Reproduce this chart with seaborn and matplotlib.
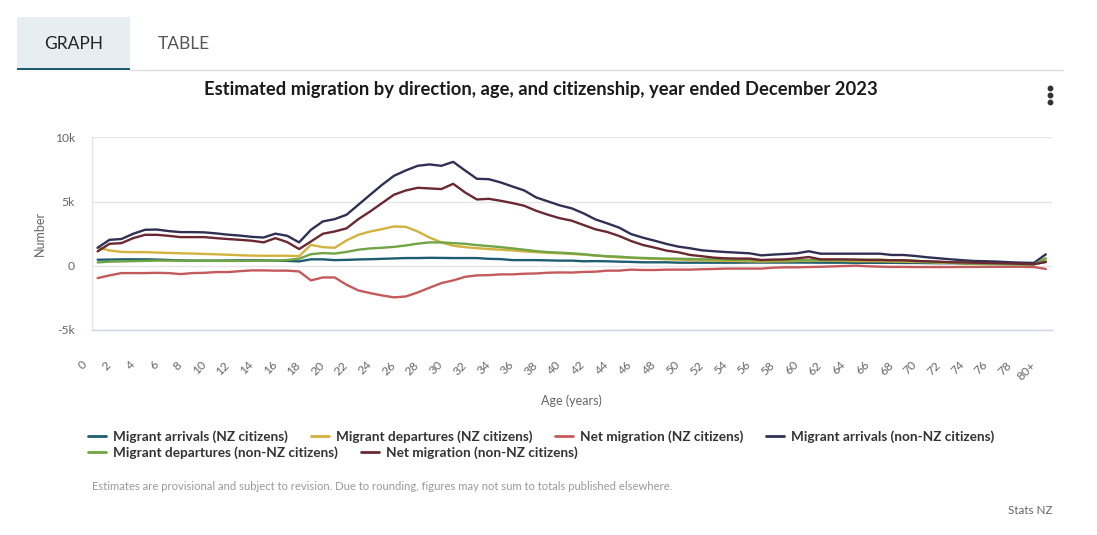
import matplotlib
matplotlib.use("Agg")
import matplotlib.pyplot as plt
import matplotlib.transforms as mtransforms
from matplotlib.patches import Rectangle
from matplotlib.lines import Line2D
from matplotlib.font_manager import FontProperties
import seaborn as sns
import pandas as pd

# ---------------- data ----------------
ages = [str(i) for i in range(80)] + ["80+"]

series_names = [
    "Migrant arrivals (NZ citizens)",
    "Migrant departures (NZ citizens)",
    "Net migration (NZ citizens)",
    "Migrant arrivals (non-NZ citizens)",
    "Migrant departures (non-NZ citizens)",
    "Net migration (non-NZ citizens)",
]

nz_arrivals = [
    470, 480, 500, 500, 500, 480, 450, 420, 400, 400,
    400, 410, 420, 420, 420, 400, 380, 340, 500, 500,
    440, 460, 490, 510, 540, 570, 600, 600, 620, 610,
    600, 600, 600, 540, 520, 440, 440, 440, 420, 400,
    400, 350, 360, 350, 320, 300, 270, 270, 270, 240,
    240, 240, 240, 240, 240, 250, 250, 250, 250, 250,
    250, 240, 240, 240, 230, 230, 230, 230, 220, 220,
    210, 200, 200, 190, 180, 170, 160, 150, 150, 140,
    300,
]

nz_departures = [
    1420, 1190, 1080, 1060, 1060, 1030, 1000, 970, 950, 920,
    890, 860, 820, 790, 780, 780, 780, 750, 1630, 1450,
    1400, 1970, 2410, 2670, 2850, 3060, 3030, 2670, 2200, 1820,
    1560, 1450, 1370, 1300, 1250, 1190, 1120, 1060, 1010, 970,
    920, 870, 790, 720, 650, 620, 570, 540, 500, 480,
    450, 430, 400, 380, 370, 350, 330, 350, 350, 370,
    400, 400, 400, 380, 360, 360, 350, 330, 320, 300,
    280, 250, 230, 200, 180, 160, 150, 130, 120, 120,
    450,
]

nz_net = [
    -960, -750, -570, -570, -570, -550, -570, -650, -570, -550,
    -490, -490, -420, -360, -360, -380, -380, -440, -1140, -910,
    -910, -1480, -1920, -2130, -2310, -2460, -2390, -2080, -1710, -1350,
    -1140, -860, -750, -730, -670, -670, -620, -600, -540, -520,
    -530, -480, -460, -380, -380, -300, -330, -330, -300, -300,
    -300, -270, -250, -220, -220, -220, -220, -150, -120, -120,
    -100, -80, -50, -20, 10, -40, -70, -90, -90, -100,
    -100, -100, -100, -90, -90, -80, -80, -80, -80, -100,
    -250,
]

nonnz_arrivals = [
    1400, 2020, 2080, 2490, 2800, 2820, 2700, 2620, 2620, 2600,
    2520, 2420, 2350, 2250, 2200, 2500, 2330, 1820, 2800, 3450,
    3630, 3970, 4750, 5530, 6300, 7000, 7420, 7780, 7890, 7780,
    8090, 7420, 6770, 6740, 6490, 6170, 5860, 5320, 5010, 4700,
    4470, 4080, 3610, 3300, 2970, 2470, 2190, 1950, 1700, 1490,
    1360, 1200, 1130, 1070, 1020, 970, 810, 870, 920, 970,
    1130, 940, 940, 940, 940, 940, 940, 840, 840, 760,
    660, 580, 500, 430, 370, 350, 320, 270, 240, 220,
    890,
]

nonnz_departures = [
    260, 320, 340, 360, 380, 400, 400, 400, 400, 390,
    380, 380, 380, 380, 400, 400, 450, 550, 900, 990,
    950, 1080, 1250, 1350, 1400, 1470, 1580, 1720, 1820, 1820,
    1760, 1710, 1610, 1530, 1450, 1350, 1250, 1140, 1060, 1020,
    970, 900, 810, 740, 710, 640, 610, 580, 560, 550,
    530, 500, 500, 480, 460, 450, 430, 430, 430, 430,
    450, 440, 440, 440, 450, 470, 470, 420, 420, 400,
    320, 280, 250, 180, 150, 140, 130, 110, 100, 100,
    580,
]

nonnz_net = [
    1120, 1710, 1760, 2150, 2410, 2410, 2330, 2230, 2230, 2230,
    2150, 2080, 2020, 1950, 1820, 2150, 1840, 1300, 1890, 2490,
    2670, 2910, 3630, 4230, 4880, 5530, 5860, 6070, 6020, 5970,
    6380, 5710, 5160, 5210, 5060, 4880, 4670, 4280, 3970, 3700,
    3510, 3170, 2840, 2630, 2320, 1930, 1620, 1410, 1180, 1050,
    840, 740, 630, 580, 560, 560, 450, 480, 500, 580,
    680, 500, 500, 500, 480, 450, 450, 430, 430, 370,
    350, 320, 270, 270, 240, 220, 200, 180, 150, 120,
    300,
]

colors = ["#1d5d6f", "#d2b23c", "#c45a5b", "#2f3054", "#70a444", "#6b2832"]

y_ticks = [-5000, 0, 5000, 10000]
y_tick_labels = ["-5k", "0", "5k", "10k"]

# ---------------- table ----------------
all_values = [nz_arrivals, nz_departures, nz_net,
              nonnz_arrivals, nonnz_departures, nonnz_net]
rows = []
for name, vals in zip(series_names, all_values):
    for i, v in enumerate(vals):
        rows.append({"pos": i, "age": ages[i], "series": name, "value": v})
df = pd.DataFrame(rows)

# ---------------- figure ----------------
sns.set_theme(style="white")
plt.rcParams["font.family"] = ["Lato", "DejaVu Sans"]

W, H = 1097, 535
fig = plt.figure(figsize=(W / 100, H / 100), dpi=100)
fig.patch.set_facecolor("white")


def fx(x):
    return x / W


def fy(y):
    return 1 - y / H


ax = fig.add_axes([fx(91.7), fy(330), (1051.7 - 91.7) / W, (330 - 137.3) / H])

sns.lineplot(data=df, x="pos", y="value", hue="series", hue_order=series_names,
             palette=dict(zip(series_names, colors)), linewidth=1.7, ax=ax,
             solid_joinstyle="round", solid_capstyle="round")

handles, labels = ax.get_legend_handles_labels()
if ax.get_legend() is not None:
    ax.get_legend().remove()

ax.set_xlim(-0.5, 80.5)
ax.set_ylim(-5000, 10000)
ax.set_yticks(y_ticks)
ax.set_yticklabels(y_tick_labels)
ax.set_xticks(list(range(0, 81, 2)))
ax.set_xticklabels([ages[i] for i in range(0, 81, 2)])

ax.grid(axis="y", color="#e6e6e6", linewidth=1)
ax.set_axisbelow(True)
for s in ["top", "right"]:
    ax.spines[s].set_visible(False)
ax.spines["left"].set_color("#e6e6e6")
ax.spines["bottom"].set_color("#ccd6eb")
ax.spines["left"].set_linewidth(1)
ax.spines["bottom"].set_linewidth(1)

ax.tick_params(axis="y", length=0, pad=12, labelsize=8.7, labelcolor="#666666")
ax.tick_params(axis="x", length=10, width=1, color="#ccd6eb", pad=11,
               labelsize=8.7, labelcolor="#666666")
offset = mtransforms.ScaledTranslation(-16 / 100, 0, fig.dpi_scale_trans)
for lab in ax.get_xticklabels():
    lab.set_rotation(45)
    lab.set_ha("right")
    lab.set_va("top")
    lab.set_rotation_mode("anchor")
    lab.set_transform(lab.get_transform() + offset)

ax.set_xlabel("")
ax.set_ylabel("")
fig.text(fx(571.7), fy(401), "Age (years)", ha="center", va="center",
         fontsize=9, color="#666666")
fig.text(fx(40), fy(233), "Number", ha="center", va="center", rotation=90,
         fontsize=9, color="#666666")

# title
fig.text(fx(540.5), fy(90),
         "Estimated migration by direction, age, and citizenship, year ended December 2023",
         ha="center", va="center", fontsize=13.2, fontweight="bold", color="#1a1a1a")

# tabs
fig.add_artist(Rectangle((fx(17), fy(68)), 113 / W, 51 / H, transform=fig.transFigure,
                         facecolor="#e6eef1", edgecolor="none"))
fig.add_artist(Rectangle((fx(17), fy(70)), 113 / W, 2.5 / H, transform=fig.transFigure,
                         facecolor="#1d5d6f", edgecolor="none"))
fig.add_artist(Line2D([fx(130), fx(1063)], [fy(69.5), fy(69.5)], transform=fig.transFigure,
                      color="#dddddd", linewidth=1))
fig.text(fx(74), fy(44), "GRAPH", ha="center", va="center", fontsize=12.5, color="#222222")
fig.text(fx(183.5), fy(44), "TABLE", ha="center", va="center", fontsize=12.5, color="#555555")

# menu dots
for yy in (88, 95, 102):
    fig.add_artist(Line2D([fx(1050)], [fy(yy)], transform=fig.transFigure, marker="o",
                          markersize=3.2, color="#333333", linestyle="none"))

# legends (two flowing rows)
lp = FontProperties(family=["Lato", "DejaVu Sans"], weight="bold", size=9.85)
common = dict(frameon=False, prop=lp, handlelength=1.31, handletextpad=0.51,
              columnspacing=1.68, borderpad=0, borderaxespad=0, labelcolor="#333333")
leg1 = fig.legend(handles[:4], labels[:4], loc="center left",
                  bbox_to_anchor=(fx(88), fy(437)), ncol=4, **common)
leg2 = fig.legend(handles[4:], labels[4:], loc="center left",
                  bbox_to_anchor=(fx(88), fy(453)), ncol=2, **common)
for lg in (leg1, leg2):
    for ln in lg.get_lines():
        ln.set_linewidth(2)

# footnotes
fig.text(fx(92), fy(487),
         "Estimates are provisional and subject to revision. Due to rounding, figures may not sum to totals published elsewhere.",
         ha="left", va="center", fontsize=8.1, color="#999999")
fig.text(fx(1052), fy(510), "Stats NZ", ha="right", va="center", fontsize=8.4, color="#666666")

fig.savefig("out.png", dpi=100)
